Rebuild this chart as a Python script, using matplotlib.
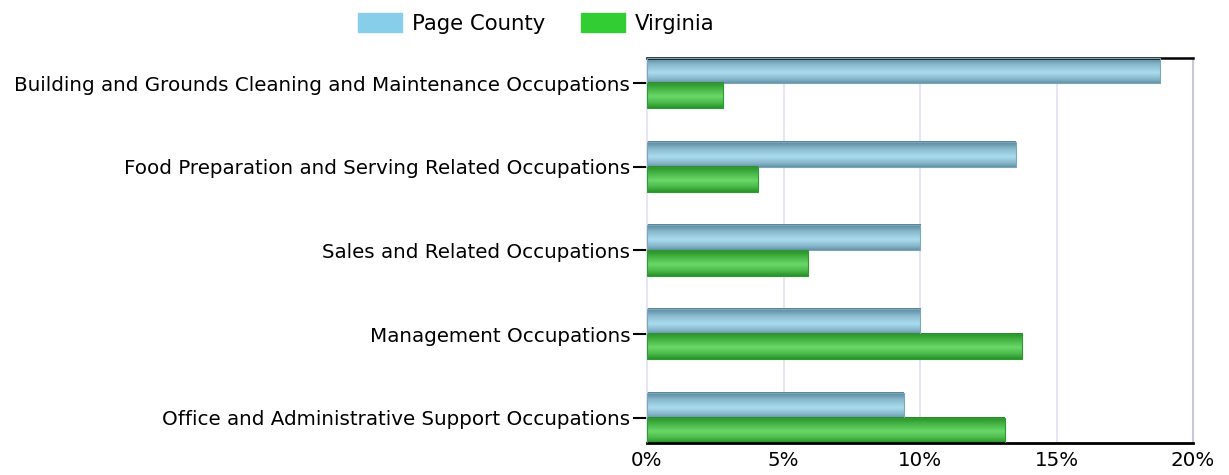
import numpy as np
import matplotlib.pyplot as plt
from matplotlib.patches import Patch
from matplotlib.colors import LinearSegmentedColormap

# ── Data ──────────────────────────────────────────────────────────────────────
categories = [
    "Building and Grounds Cleaning and Maintenance Occupations",
    "Food Preparation and Serving Related Occupations",
    "Sales and Related Occupations",
    "Management Occupations",
    "Office and Administrative Support Occupations",
]
page_county = [18.8, 13.5, 10.0, 10.0, 9.4]
virginia = [2.8, 4.05, 5.9, 13.75, 13.1]
tick_vals = [0, 5, 10, 15, 20]
tick_labels = ["0%", "5%", "10%", "15%", "20%"]

# ── Style ─────────────────────────────────────────────────────────────────────
BLUE_LEG, GREEN_LEG = "#87CEEB", "#32CD32"
blue_cmap = LinearSegmentedColormap.from_list(
    "b", [(0, "#55849a"), (0.3, "#8abace"), (0.6, "#aadcef"), (0.85, "#88b6c9"), (1, "#6595aa")])
green_cmap = LinearSegmentedColormap.from_list(
    "g", [(0, "#288e28"), (0.3, "#4aba4a"), (0.55, "#6ad86a"), (0.8, "#4aba4a"), (1, "#2a922a")])
GRID = "#e0e0f4"

fig = plt.figure(figsize=(12.29, 4.75), dpi=100)
ax = fig.add_axes([647 / 1229, 1 - 443 / 475, 546 / 1229, 385 / 475])

n = len(categories)
h = 0.3
grad = np.linspace(0, 1, 64).reshape(-1, 1)


def gbar(x, y0, y1, cmap, edge):
    ax.imshow(grad, extent=[0, x, y1, y0], aspect="auto", cmap=cmap,
              interpolation="bilinear", zorder=2)
    ax.add_patch(plt.Rectangle((0, y0), x, y1 - y0, fill=False, ec=edge, lw=0.8, zorder=3))


for i in range(n):
    gbar(page_county[i], i - h, i, blue_cmap, "#7aa6b8")
    gbar(virginia[i], i, i + h, green_cmap, "#2f9a2f")

ax.set_xlim(0, 20)
ax.set_ylim(n - 1 + h, -h)
ax.set_xticks(tick_vals)
ax.set_xticklabels(tick_labels, fontsize=14.3)
ax.set_yticks(range(n))
ax.set_yticklabels(categories, fontsize=14.3)
ax.tick_params(axis="y", length=10, width=1.5, color="black", pad=2)
ax.tick_params(axis="x", length=0, pad=6)
for v in tick_vals[1:-1]:
    ax.axvline(v, color=GRID, lw=1.2, zorder=1)

ax.spines["top"].set_color("black")
ax.spines["top"].set_linewidth(1.8)
ax.spines["bottom"].set_color("black")
ax.spines["bottom"].set_linewidth(2)
ax.spines["left"].set_color(GRID)
ax.spines["right"].set_color("#c8c8dc")
ax.spines["left"].set_linewidth(1.2)
ax.spines["right"].set_linewidth(1.5)
ax.set_axisbelow(True)

handles = [Patch(color=BLUE_LEG, label="Page County"), Patch(color=GREEN_LEG, label="Virginia")]
fig.legend(handles=handles, loc="upper left", bbox_to_anchor=(339 / 1229, 1.012), ncol=2,
           frameon=False, fontsize=15.3, handlelength=2.07, handleheight=1.0,
           columnspacing=1.7, handletextpad=0.45)

fig.savefig("out.png", dpi=100)
